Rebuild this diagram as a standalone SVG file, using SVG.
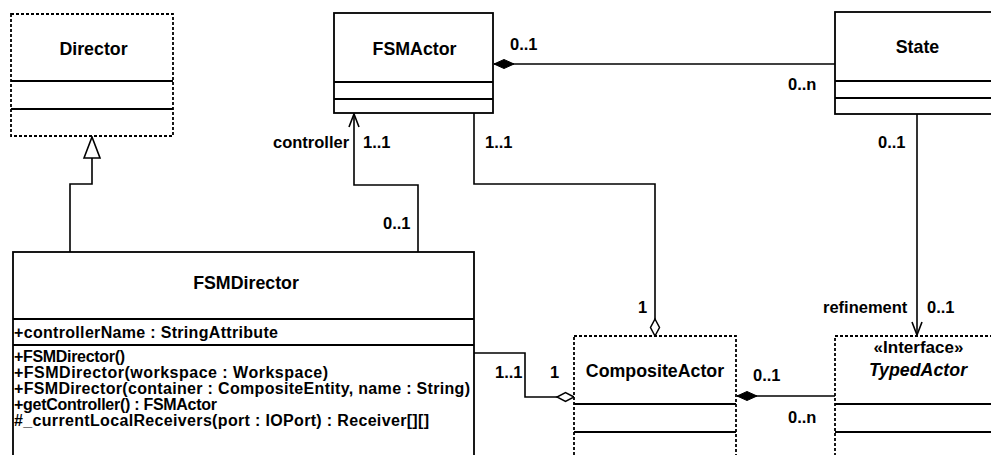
<svg xmlns="http://www.w3.org/2000/svg" width="991" height="455" viewBox="0 0 991 455">
<defs>
<style>
.box{fill:#fff;stroke:#000;stroke-width:1.8}
.dash{stroke-dasharray:3 2}
.div{stroke:#000;stroke-width:1.8}
.t{font-family:"Liberation Sans",Arial,sans-serif;font-weight:bold;fill:#000}
.title{font-size:17.8px;text-anchor:middle}
.mem{font-size:16px}
.lbl{font-size:16.5px}
.con{fill:none;stroke:#000;stroke-width:1.6}
</style>
<marker id="tri" markerUnits="userSpaceOnUse" markerWidth="30" markerHeight="30" viewBox="-25 -12 30 24" refX="0" refY="0" orient="auto" overflow="visible">
<path d="M-21,-8 L0,0 L-21,8 Z" fill="#fff" stroke="#000" stroke-width="1.6"/>
</marker>
<marker id="arr" markerUnits="userSpaceOnUse" markerWidth="20" markerHeight="20" viewBox="-15 -10 20 20" refX="0" refY="0" orient="auto" overflow="visible">
<path d="M-13,-5 L0,0 L-13,5" fill="none" stroke="#000" stroke-width="1.6"/>
</marker>
<marker id="fdia" markerUnits="userSpaceOnUse" markerWidth="30" markerHeight="20" viewBox="-2 -10 30 20" refX="0" refY="0" orient="auto" overflow="visible">
<path d="M0,0 L10,-4.5 L20,0 L10,4.5 Z" fill="#000" stroke="#000" stroke-width="1"/>
</marker>
<marker id="hdia" markerUnits="userSpaceOnUse" markerWidth="30" markerHeight="20" viewBox="-20 -10 30 20" refX="0" refY="0" orient="auto" overflow="visible">
<path d="M0,0 L-8.5,-4.5 L-17,0 L-8.5,4.5 Z" fill="#fff" stroke="#000" stroke-width="1.5"/>
</marker>
</defs>
<rect width="991" height="455" fill="#fff"/>

<g id="connectors">
<path class="con" d="M70,252 L70,184 L92,184 L92,137" marker-end="url(#tri)"/>
<path class="con" d="M418,252 L418,185 L354,185 L354,114" marker-end="url(#arr)"/>
<path class="con" d="M494,64 L835,64" marker-start="url(#fdia)"/>
<path class="con" d="M474,113 L474,184 L655,184 L655,336" marker-end="url(#hdia)"/>
<path class="con" d="M917,114 L917,335" marker-end="url(#arr)"/>
<path class="con" d="M474,353 L525,353 L525,397 L574,397" marker-end="url(#hdia)"/>
<path class="con" d="M737,396 L835,396" marker-start="url(#fdia)"/>
<text class="t lbl" x="273" y="148">controller</text>
<text class="t lbl" x="363" y="148">1..1</text>
<text class="t lbl" x="383" y="229">0..1</text>
<text class="t lbl" x="485" y="148">1..1</text>
<text class="t lbl" x="510" y="50">0..1</text>
<text class="t lbl" x="788" y="90">0..n</text>
<text class="t lbl" x="878" y="148">0..1</text>
<text class="t lbl" x="638" y="313">1</text>
<text class="t lbl" x="823" y="313">refinement</text>
<text class="t lbl" x="927" y="313">0..1</text>
<text class="t lbl" x="495" y="378">1..1</text>
<text class="t lbl" x="550" y="378">1</text>
<text class="t lbl" x="753" y="381">0..1</text>
<text class="t lbl" x="788" y="423">0..n</text>
</g>

<g id="Director">
<rect class="box dash" x="11" y="14" width="162" height="122"/>
<line class="div" x1="11" y1="81" x2="173" y2="81"/>
<line class="div" x1="11" y1="109" x2="173" y2="109"/>
<text class="t title" x="93.5" y="55">Director</text>
</g>

<g id="FSMActor">
<rect class="box" x="334" y="13" width="159" height="100"/>
<line class="div" x1="334" y1="82" x2="493" y2="82"/>
<line class="div" x1="334" y1="99" x2="493" y2="99"/>
<text class="t title" x="414.5" y="55">FSMActor</text>
</g>

<g id="State">
<rect class="box" x="835" y="12" width="180" height="102"/>
<line class="div" x1="835" y1="81" x2="991" y2="81"/>
<line class="div" x1="835" y1="98" x2="991" y2="98"/>
<text class="t title" x="917.5" y="53">State</text>
</g>

<g id="FSMDirector">
<rect class="box" x="13" y="252" width="461" height="230"/>
<line class="div" x1="13" y1="319" x2="474" y2="319"/>
<line class="div" x1="13" y1="345" x2="474" y2="345"/>
<text class="t title" x="246" y="289">FSMDirector</text>
<text class="t mem" x="14" y="338" textLength="264">+controllerName : StringAttribute</text>
<text class="t mem" x="14" y="362" textLength="111">+FSMDirector()</text>
<text class="t mem" x="14" y="378" textLength="314">+FSMDirector(workspace : Workspace)</text>
<text class="t mem" x="14" y="394" textLength="456">+FSMDirector(container : CompositeEntity, name : String)</text>
<text class="t mem" x="14" y="410" textLength="203">+getController() : FSMActor</text>
<text class="t mem" x="14" y="426" textLength="415">#_currentLocalReceivers(port : IOPort) : Receiver[][]</text>
</g>

<g id="CompositeActor">
<rect class="box dash" x="574" y="336" width="162" height="140"/>
<line class="div" x1="574" y1="404" x2="736" y2="404"/>
<line class="div" x1="574" y1="432" x2="736" y2="432"/>
<text class="t title" x="655" y="377">CompositeActor</text>
</g>

<g id="TypedActor">
<rect class="box dash" x="835" y="336" width="180" height="140"/>
<line class="div" x1="835" y1="404" x2="991" y2="404"/>
<line class="div" x1="835" y1="432" x2="991" y2="432"/>
<text class="t title" x="918.5" y="353" style="font-size:17px">«Interface»</text>
<text class="t title" x="918" y="376" font-style="italic">TypedActor</text>
</g>
</svg>
